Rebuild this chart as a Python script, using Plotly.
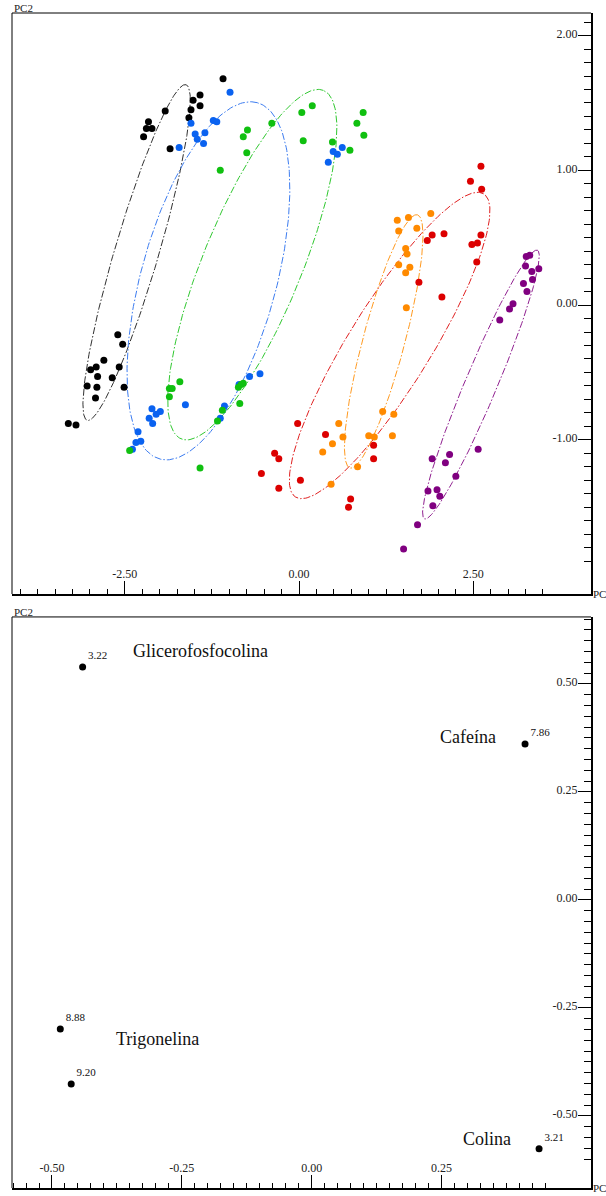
import numpy as np
import plotly.graph_objects as go

# ---------------- data: score plot (PC1 vs PC2) ----------------
black_x = [-1.09, -1.42, -1.52, -1.92, -1.55, -1.42, -1.58, -2.16, -2.19, -2.11, -2.23, -1.85,
           -2.60, -2.53, -2.80, -2.91, -2.99, -2.58, -2.89, -2.68, -3.04, -2.90, -2.51, -2.92, -3.31, -3.20]
black_y = [1.68, 1.56, 1.52, 1.44, 1.45, 1.48, 1.39, 1.36, 1.31, 1.31, 1.25, 1.16,
           -0.22, -0.29, -0.41, -0.46, -0.48, -0.46, -0.53, -0.54, -0.60, -0.61, -0.61, -0.69, -0.88, -0.89]

blue_x = [-0.99, -1.23, -1.18, -1.35, -1.37, -1.55, -1.49, -1.46, -1.72, 0.49, 0.55, 0.62, 0.42,
          -0.56, -0.71, -0.86, -1.07, -1.13, -1.63, -2.11, -1.99, -2.05, -2.15, -2.10, -2.31, -2.34, -2.27, -2.39]
blue_y = [1.58, 1.37, 1.36, 1.28, 1.20, 1.35, 1.27, 1.23, 1.17, 1.14, 1.12, 1.17, 1.06,
          -0.51, -0.53, -0.59, -0.75, -0.84, -0.74, -0.77, -0.79, -0.81, -0.84, -0.88, -0.94, -1.02, -1.01, -1.07]

green_x = [-0.74, -0.80, -0.75, -1.13, -0.39, 0.04, 0.19, 0.06, 0.48, 0.73, 0.92, 0.83, 0.93,
           -1.71, -1.86, -1.82, -1.86, -0.80, -0.83, -0.87, -0.85, -1.10, -1.17, -2.43, -1.42]
green_y = [1.30, 1.25, 1.13, 1.00, 1.35, 1.43, 1.48, 1.22, 1.21, 1.15, 1.43, 1.35, 1.26,
           -0.57, -0.62, -0.62, -0.68, -0.58, -0.59, -0.61, -0.73, -0.78, -0.86, -1.08, -1.21]

red_x = [2.61, 2.46, 2.62, 1.91, 2.08, 1.84, 2.61, 2.48, 2.56, 2.55, 1.72, 2.05,
         -0.02, 0.38, -0.35, -0.29, 1.07, 1.07, -0.54, 0.02, -0.29, 0.74, 0.71]
red_y = [1.03, 0.92, 0.86, 0.52, 0.53, 0.48, 0.52, 0.45, 0.46, 0.32, 0.17, 0.06,
         -0.88, -0.96, -1.10, -1.14, -1.04, -1.14, -1.25, -1.30, -1.36, -1.44, -1.50]

orange_x = [1.41, 1.57, 1.89, 1.43, 1.69, 1.53, 1.55, 1.43, 1.59, 1.53, 1.54,
            1.20, 1.36, 0.57, 0.63, 1.00, 1.08, 1.34, 0.48, 0.34, 0.84, 0.46]
orange_y = [0.63, 0.65, 0.68, 0.55, 0.57, 0.42, 0.38, 0.30, 0.28, 0.24, -0.02,
            -0.79, -0.81, -0.88, -0.98, -0.97, -0.98, -0.97, -1.03, -1.09, -1.20, -1.33]

purple_x = [3.26, 3.31, 3.25, 3.34, 3.44, 3.35, 3.22, 3.27, 3.07, 3.02, 2.88,
            2.57, 1.91, 2.16, 2.10, 2.25, 1.85, 1.98, 2.02, 1.92, 1.70, 1.50]
purple_y = [0.36, 0.37, 0.29, 0.25, 0.27, 0.19, 0.16, 0.10, 0.01, -0.03, -0.11,
            -1.07, -1.14, -1.11, -1.17, -1.27, -1.38, -1.37, -1.42, -1.49, -1.63, -1.81]

# ellipse parameters per group: centre x, centre y, semi-major, semi-minor (PC1 units), angle (deg)
ell_cx = [-2.33, -1.30, -0.67, 1.30, 1.215, 2.61]
ell_cy = [0.39, 0.18, 0.30, -0.30, -0.27, -0.59]
ell_a = [2.51, 2.65, 2.70, 2.56, 1.88, 2.09]
ell_b = [0.315, 0.97, 0.71, 0.59, 0.30, 0.23]
ell_ang = [73.6, 74.7, 67.8, 58.2, 75.1, 67.2]

# ---------------- data: loadings plot ----------------
load_x = [-0.441, 0.411, -0.484, -0.463, 0.438]
load_y = [0.539, 0.361, -0.299, -0.426, -0.576]
load_lbl = ["3.22", "7.86", "8.88", "9.20", "3.21"]
comp_names = ["Glicerofosfocolina", "Cafeína", "Trigonelina", "Colina"]
comp_x = [-0.214, 0.301, -0.296, 0.337]
comp_y = [0.577, 0.378, -0.322, -0.554]

top_xticks = [-2.5, 0.0, 2.5]
top_xtext = ["-2.50", "0.00", "2.50"]
top_yticks = [-2, -1, 0, 1, 2]
top_ytext = ["-2.00", "-1.00", "0.00", "1.00", "2.00"]
bot_xticks = [-0.5, -0.25, 0.0, 0.25]
bot_xtext = ["-0.50", "-0.25", "0.00", "0.25"]
bot_yticks = [-0.5, -0.25, 0.0, 0.25, 0.5]
bot_ytext = ["-0.50", "-0.25", "0.00", "0.25", "0.50"]

# ---------------- layout constants ----------------
W, H = 606, 1196
ML, MR, MT, MB = 12, 15, 13, 8
top_dom = [0.5055, 1.0]
bot_dom = [0.0, 0.486]
top_xr = [-4.118, 4.189]
top_yr = [-2.145, 2.168]
bot_xr = [-0.577, 0.538]
bot_yr = [-0.667, 0.655]

plot_w = W - ML - MR
plot_h = (H - MT - MB) * (top_dom[1] - top_dom[0])
k = (plot_h / (top_yr[1] - top_yr[0])) / (plot_w / (top_xr[1] - top_xr[0]))

colors = ["#000000", "#0a62f0", "#10c010", "#dc0000", "#ff8a00", "#800080"]
ell_colors = ["#303030", "#3c7cf0", "#30c830", "#e02020", "#ff9a20", "#902090"]
groups = [(black_x, black_y), (blue_x, blue_y), (green_x, green_y),
          (red_x, red_y), (orange_x, orange_y), (purple_x, purple_y)]

fig = go.Figure()
t = np.linspace(0, 2 * np.pi, 240)
for i in range(6):
    th = np.deg2rad(ell_ang[i])
    u = ell_a[i] * np.cos(t)
    v = ell_b[i] * np.sin(t)
    ex = ell_cx[i] + u * np.cos(th) - v * np.sin(th)
    ey = ell_cy[i] + (u * np.sin(th) + v * np.cos(th)) / k
    fig.add_trace(go.Scatter(x=ex, y=ey, mode="lines", xaxis="x", yaxis="y",
                             line=dict(color=ell_colors[i], width=1, dash="7px,2px,1.5px,2px"),
                             hoverinfo="skip", showlegend=False))
for i, (gx, gy) in enumerate(groups):
    fig.add_trace(go.Scatter(x=gx, y=gy, mode="markers", xaxis="x", yaxis="y",
                             marker=dict(color=colors[i], size=7, line=dict(width=0)),
                             showlegend=False))

fig.add_trace(go.Scatter(x=load_x, y=load_y, mode="markers+text", xaxis="x2", yaxis="y2",
                         text=load_lbl, textposition="top right",
                         textfont=dict(family="Liberation Serif", size=11, color="#111"),
                         marker=dict(color="black", size=7), showlegend=False))

annotations = []
for nm, x, y in zip(comp_names, comp_x, comp_y):
    annotations.append(dict(x=x, y=y, xref="x2", yref="y2", text=nm, showarrow=False,
                            font=dict(family="Liberation Serif", size=18, color="#111")))
for yr in ["y", "y2"]:
    xr = "x" if yr == "y" else "x2"
    annotations.append(dict(x=0, y=1, xref=xr + " domain", yref=yr + " domain", text="PC2",
                            showarrow=False, xanchor="left", yanchor="bottom", yshift=-3,
                            font=dict(family="Liberation Serif", size=11, color="#222")))
    annotations.append(dict(x=1, y=0, xref=xr + " domain", yref=yr + " domain", text="PC",
                            showarrow=False, xanchor="left", yanchor="middle", xshift=0,
                            font=dict(family="Liberation Serif", size=11, color="#222")))

shapes = []
for xr, yr in [("x", "y"), ("x2", "y2")]:
    shapes.append(dict(type="line", xref=xr + " domain", yref=yr + " domain",
                       x0=0, x1=1, y0=1, y1=1, line=dict(color="black", width=1)))
    shapes.append(dict(type="line", xref=xr + " domain", yref=yr + " domain",
                       x0=0, x1=0, y0=0, y1=1, line=dict(color="black", width=1)))

tickfont = dict(family="Liberation Serif", size=12, color="#222")


def xaxis(rng, tv, tt, dt, anchor):
    return dict(range=rng, tickvals=tv, ticktext=tt, ticks="inside", ticklen=13, tickwidth=1,
                tickcolor="black", ticklabelposition="inside", tickfont=tickfont,
                showline=True, linecolor="black", linewidth=2, showgrid=False, zeroline=False,
                anchor=anchor, domain=[0, 1],
                minor=dict(tick0=0, dtick=dt, ticks="inside", ticklen=5, tickcolor="black",
                           tickwidth=1, showgrid=False))


def yaxis(rng, tv, tt, dt, anchor, dom):
    return dict(range=rng, tickvals=tv, ticktext=tt, ticks="inside", ticklen=13, tickwidth=1,
                tickcolor="black", ticklabelposition="inside", tickfont=tickfont,
                ticklabelshift=-2,
                side="right", showline=True, linecolor="black", linewidth=2, showgrid=False,
                zeroline=False, anchor=anchor, domain=dom,
                minor=dict(tick0=0, dtick=dt, ticks="inside", ticklen=7, tickcolor="black",
                           tickwidth=1, showgrid=False))


fig.update_layout(
    width=W, height=H,
    margin=dict(l=ML, r=MR, t=MT, b=MB),
    paper_bgcolor="white", plot_bgcolor="white",
    xaxis=xaxis(top_xr, top_xticks, top_xtext, 0.25, "y"),
    yaxis=yaxis(top_yr, top_yticks, top_ytext, 0.1, "x", top_dom),
    xaxis2=xaxis(bot_xr, bot_xticks, bot_xtext, 0.025, "y2"),
    yaxis2=yaxis(bot_yr, bot_yticks, bot_ytext, 0.025, "x2", bot_dom),
    annotations=annotations, shapes=shapes,
    font=dict(family="Liberation Serif"),
)

fig.write_html("out.html")
